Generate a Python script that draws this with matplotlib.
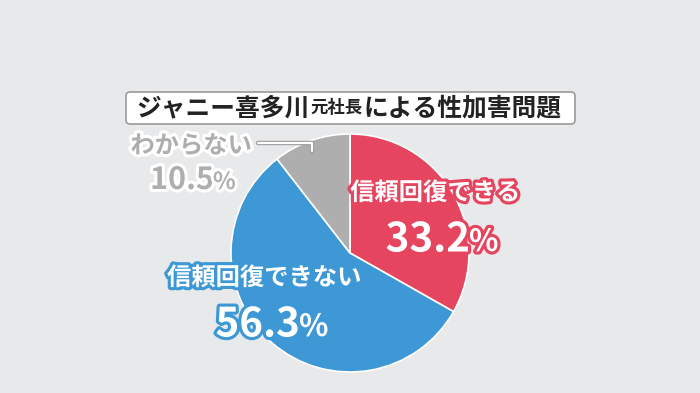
import matplotlib
matplotlib.use("Agg")
import matplotlib.pyplot as plt
import matplotlib.patheffects as pe
from matplotlib.patches import FancyBboxPatch

plt.rcParams['font.family'] = ['Noto Sans CJK JP', 'DejaVu Sans']

# データ
labels = ["信頼回復できる", "信頼回復できない", "わからない"]
values = [33.2, 56.3, 10.5]
colors = ["#e5455f", "#3d98d5", "#aeaeae"]
title_parts = ["ジャニー喜多川", "元社長", "による性加害問題"]

BG = "#e8e9eb"
W, H = 700, 393

fig = plt.figure(figsize=(7, 3.93), dpi=100, facecolor=BG)
ax = fig.add_axes([0, 0, 1, 1])
ax.set_facecolor(BG)

# 円グラフ (12時から時計回り)
ax.pie(values, colors=colors, startangle=90, counterclock=False,
       center=(350, H - 253), radius=119, frame=True,
       wedgeprops=dict(edgecolor="white", linewidth=1.2))
ax.set_xlim(0, W)
ax.set_ylim(0, H)
ax.axis("off")

# タイトルボックス
box = FancyBboxPatch((126, H - 124), 449, 32, boxstyle="round,pad=0,rounding_size=4",
                     facecolor="white", edgecolor="#9a9a9a", linewidth=1.2, zorder=3)
ax.add_patch(box)

renderer = fig.canvas.get_renderer()
x = 136
sizes = [17.8, 12.5, 17.8]
for part, s in zip(title_parts, sizes):
    t = ax.text(x, H - 108, part, fontsize=s, fontweight="bold", color="#222222",
                ha="left", va="center", zorder=4)
    bb = t.get_window_extent(renderer)
    x = bb.x1 + 1


def outlined(x, y, s, size, fill, edge, ha="center", lw=4.5):
    return ax.text(x, H - y, s, fontsize=size, fontweight="bold", color=fill, ha=ha,
                   va="center", zorder=5,
                   path_effects=[pe.Stroke(linewidth=lw, foreground=edge), pe.Normal()])


# 信頼回復できる
outlined(435, 193, labels[0], 17.5, "white", colors[0])
outlined(470, 240, f"{values[0]}", 29, "white", colors[0], ha="right")
outlined(469, 242, "%", 22, "white", colors[0], ha="left")

# 信頼回復できない
outlined(264, 278, labels[1], 17.5, "white", colors[1])
outlined(300, 325, f"{values[1]}", 29, "white", colors[1], ha="right")
outlined(299, 327, "%", 22, "white", colors[1], ha="left")

# わからない
outlined(191, 146, labels[2], 17.5, colors[2], "white")
outlined(214, 180, f"{values[2]}", 22, colors[2], "white", ha="right")
outlined(213, 182, "%", 17, colors[2], "white", ha="left")

# 引き出し線
lx = [258, 312, 312]
ly = [H - 143, H - 143, H - 151]
ax.plot(lx, ly, color="#9a9a9a", linewidth=3.2, solid_capstyle="round", zorder=4)
ax.plot(lx, ly, color="white", linewidth=1.6, solid_capstyle="round", zorder=4)

fig.savefig("out.png", dpi=100, facecolor=BG)
